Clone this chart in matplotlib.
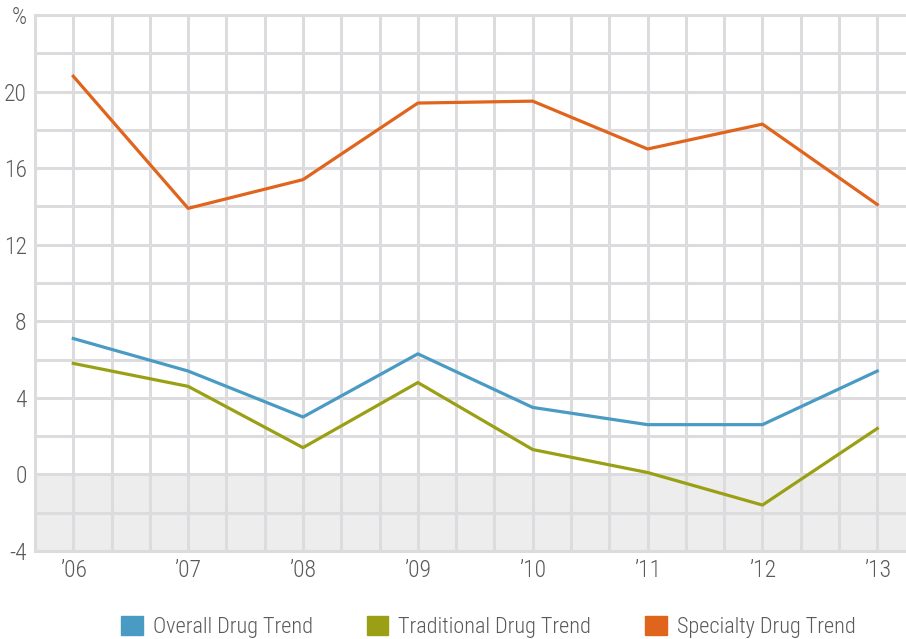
import numpy as np
import matplotlib.pyplot as plt
from matplotlib.patches import Patch

plt.rcParams['font.family'] = ['Liberation Sans Narrow', 'Roboto Condensed', 'Roboto', 'DejaVu Sans']
plt.rcParams['font.weight'] = 'light'

years = ['\u201906', '\u201907', '\u201908', '\u201909', '\u201910', '\u201911', '\u201912', '\u201913']
overall = [7.1, 5.4, 3.0, 6.3, 3.5, 2.6, 2.6, 5.4]
traditional = [5.8, 4.6, 1.4, 4.8, 1.3, 0.1, -1.6, 2.4]
specialty = [20.8, 13.9, 15.4, 19.4, 19.5, 17.0, 18.3, 14.1]

series = [
    ('Overall Drug Trend', overall, '#4a9bc4'),
    ('Traditional Drug Trend', traditional, '#9a9f14'),
    ('Specialty Drug Trend', specialty, '#e0641c'),
]

grid_color = '#dcdcdf'
text_color = '#5a5a5a'

fig = plt.figure(figsize=(9.06, 6.39), dpi=100)
ax = fig.add_axes([35 / 906, 88 / 639, 871 / 906, 536 / 639])

x = np.arange(len(years))
ax.set_xlim(-1 / 3, 7.25)
ax.set_ylim(-4, 24)

# shaded band below zero
ax.axhspan(-4, 0, color='#ededed', zorder=0, lw=0)

# fine grid: three columns per year, one row per 2 points
ax.set_xticks(np.arange(-1, 22) / 3, minor=True)
ax.set_yticks(np.arange(-4, 25, 2), minor=True)
ax.grid(which='both', color=grid_color, lw=2.2, zorder=1)
ax.tick_params(which='both', length=0)
ax.set_axisbelow(True)

for name, vals, col in series:
    ax.plot(x, vals, color=col, lw=2.3, label=name, zorder=3)

for side in ['left', 'top', 'bottom']:
    ax.spines[side].set_color(grid_color)
    ax.spines[side].set_linewidth(2.2)
ax.spines['right'].set_visible(False)

yt = [-4, 0, 4, 8, 12, 16, 20, 24]
ax.set_yticks(yt, labels=[str(v) for v in yt[:-1]] + ['%'])
ax.set_xticks(x, labels=years)
ax.tick_params(which='major', labelsize=17, colors=text_color)
ax.tick_params(axis='y', pad=6)
ax.tick_params(axis='x', pad=6)

handles = [Patch(color=col, label=name) for name, _, col in series]
fig.legend(handles=handles, loc='center', bbox_to_anchor=(0.539, 1 - 627 / 639),
           ncol=3, frameon=False, fontsize=16, labelcolor=text_color,
           handlelength=0.95, handleheight=0.95, handletextpad=0.45, columnspacing=2.45)

fig.savefig('out.png', dpi=100, facecolor='white')
